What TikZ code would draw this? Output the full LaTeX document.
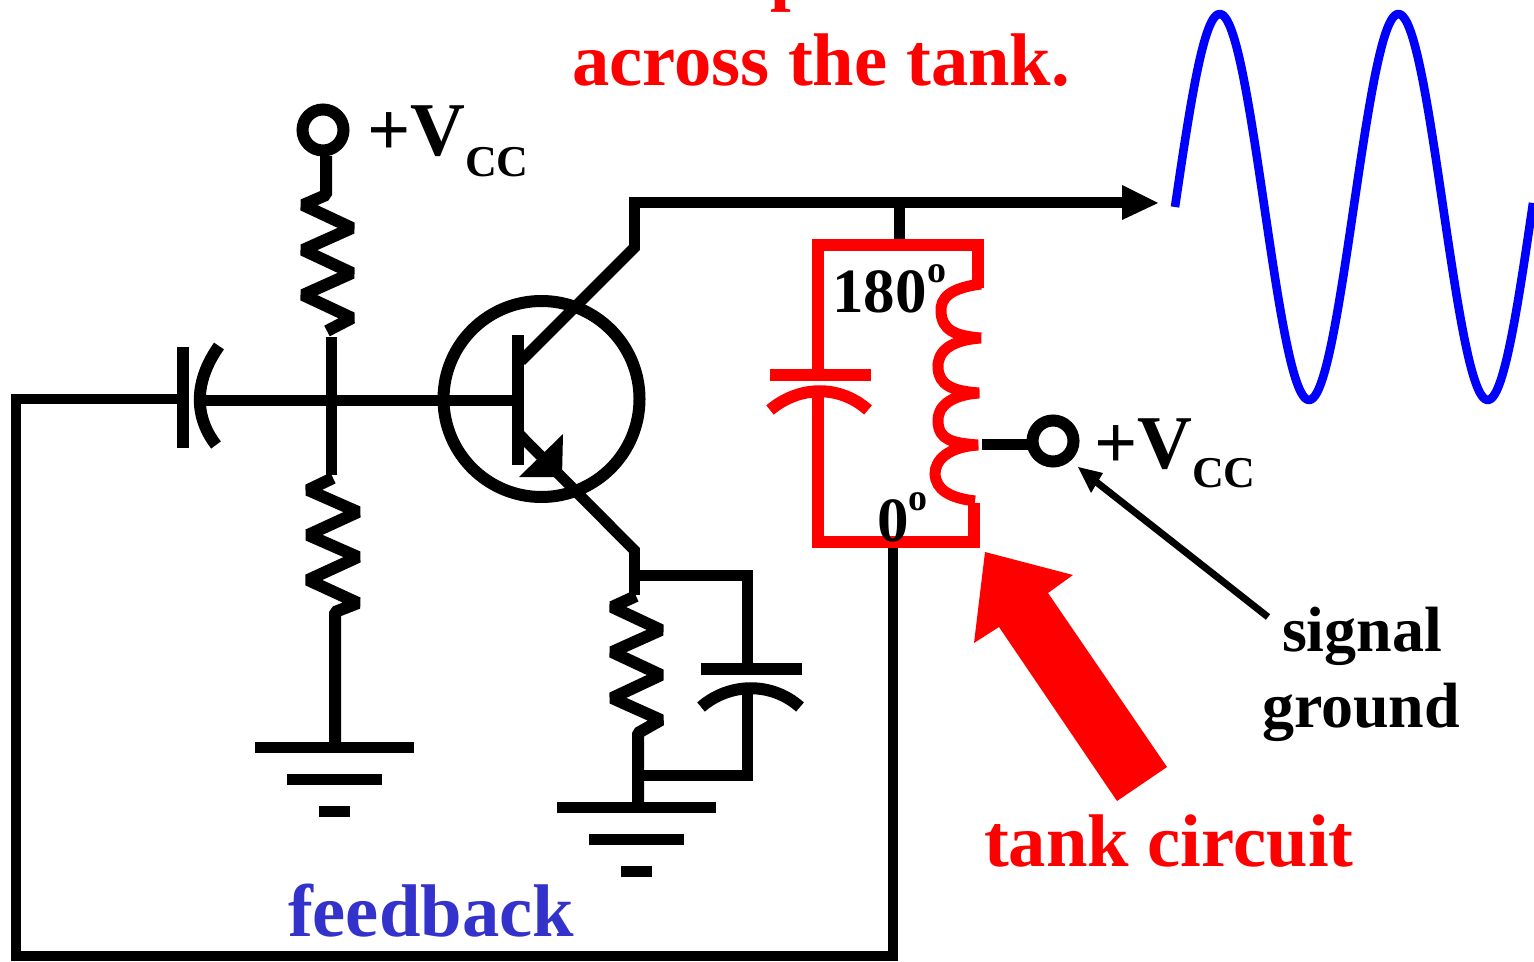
\documentclass[tikz,border=0pt]{standalone}
\usepackage{fontspec}
\setmainfont{Liberation Serif}
\definecolor{fbblue}{RGB}{51,51,204}
\tikzset{
  wire/.style={line width=5.5pt,line cap=butt,line join=miter},
  thinwire/.style={line width=5pt,line cap=butt,line join=miter},
  zigzag/.style={line width=6pt,line cap=butt,line join=bevel},
  redwire/.style={wire,draw=red},
  label/.style={inner sep=0pt,outer sep=0pt,anchor=base west,font=\bfseries},
  terminal/.style={circle,draw=black,line width=6pt,fill=white,minimum size=20.5pt,inner sep=0pt},
}
\newcommand{\fs}[1]{\fontsize{#1}{#1}\selectfont}
\begin{document}
\begin{tikzpicture}[x=0.5pt,y=-0.5pt]
\useasboundingbox (0,0) rectangle (1534,962);
% named junctions
\coordinate (fbstart) at (178,399);
\coordinate (fbtl) at (16,399);
\coordinate (fbbl) at (16,956);
\coordinate (fbbr) at (893,956);
\coordinate (tankbot) at (893,548);
\coordinate (junction) at (331,400);
\coordinate (base) at (518,400);
\coordinate (outtop) at (634,203);
\coordinate (outtip) at (1158,203);
\coordinate (tanktopstub) at (899,203);
\coordinate (tanktop) at (899,243);
\coordinate (coll) at (636,246);
\coordinate (collb) at (521,361);
\coordinate (emb) at (520,435);
\coordinate (emc) at (636,552);
\coordinate (g1) at (335,747);
\coordinate (g2) at (638,807);
\coordinate (e1) at (634,575);
\coordinate (e2) at (747,575);
\coordinate (e3) at (747,775);
\coordinate (e4) at (640,775);

% feedback wire
\draw[thinwire] (fbstart) -- (fbtl) -- (fbbl) -- (fbbr) -- (tankbot);
% left capacitor
\draw[line width=6pt] (183,347) -- (183,448);
\draw[line width=6pt] (219,346) .. controls (195,380) and (193,415) .. (216,445);
% base wire
\draw[wire] (206,400) -- (base);
% Vcc 1 with resistor
\node[terminal] (vcca) at (323,130) {};
\draw[zigzag] (326,156) -- (326,195) -- (303,205) -- (352,228) -- (303,250) -- (352,273) -- (303,295) -- (352,318) -- (327,331);
\draw[wire] (331,337) -- (junction) -- (331,475);
% lower resistor
\draw[zigzag] (333,478) -- (308,490) -- (358,512) -- (308,535) -- (358,557) -- (308,580) -- (358,603) -- (335,612) -- (g1);
% ground 1
\draw[wire] (255,747) -- (414,747);
\draw[wire] (287,779) -- (382,779);
\draw[wire] (319,811) -- (350,811);
% transistor
\node[circle,draw=black,line width=6pt,minimum size=98pt,inner sep=0pt] (bjt) at (541.5,399) {};
\draw[line width=6pt] (518,335) -- (518,465);
\draw[wire] (collb) -- (coll);
\draw[wire] (634,250) -- (outtop) -- (1125,203);
\fill (1122,185) -- (outtip) -- (1122,220) -- cycle;
\draw[wire] (tanktopstub) -- (tanktop);
\draw[wire] (emb) -- (emc);
\fill (563,434) -- (519,477) -- (562,477) -- cycle;
% emitter leg
\draw[wire] (634,548) -- (634,595);
\draw[zigzag] (636,596) -- (612,607) -- (661,630) -- (612,652) -- (661,675) -- (612,698) -- (661,720) -- (638,733) -- (g2);
\draw[wire] (e1) -- (e2) -- (747,665);
\draw[wire] (747,690) -- (e3) -- (e4);
% emitter capacitor
\draw[wire,line width=6pt] (701,669) -- (802,669);
\draw[wire,line width=6pt] (701,707) .. controls (730,682) and (772,682) .. (800,707);
% ground 2
\draw[wire] (557,807) -- (716,807);
\draw[wire] (589,839) -- (684,839);
\draw[wire] (621,871) -- (652,871);
% tank
\draw[redwire,line width=6pt] (818,372) -- (818,245.5) -- (978,245.5) -- (978,288);
\draw[redwire,line width=6pt] (818,392) -- (818,542) -- (974,542) -- (974,503);
\draw[redwire,line width=6pt] (770,375) -- (871,375);
\draw[redwire,line width=6pt] (770,410) .. controls (800,385) and (840,385) .. (868,410);
\draw[redwire] (981,284) .. controls (950,288) and (940,298) .. (941,312)
  .. controls (942,330) and (955,336) .. (981,338)
  .. controls (950,340) and (937,352) .. (938,368)
  .. controls (939,385) and (952,391) .. (979,393)
  .. controls (950,395) and (937,407) .. (938,422)
  .. controls (939,440) and (952,443) .. (978,445)
  .. controls (948,447) and (935,460) .. (935,474)
  .. controls (936,490) and (950,498) .. (975,501);
% Vcc 2
\node[terminal] (vccb) at (1053,441) {};
\draw[wire] (982,444) -- (1031,444);
% signal-ground pointer
\coordinate (sgstart) at (1268,617);
\coordinate (sgtip) at (1078,467);
\draw[line width=3.5pt] (sgstart) -- (1090,477);
\fill (sgtip) -- (1091,493) -- (1103,473) -- cycle;
% big red arrow
\fill[red] (985,552) -- (1073,575) -- (1048,593) -- (1167,767) -- (1117,801) -- (999,627) -- (974,643) -- cycle;
% sine
\draw[blue,line width=4.3pt,line join=round] plot[domain=0:358,samples=180,smooth] ({1175+\x},{207-193*sin(\x*2.0145)});
% labels
\begin{scope}
\clip (0,0) rectangle (1534,962);
\node[label,text=red] (topp) at (770,-3) {\fs{37.3pt}p};
\end{scope}
\node[label,text=red] (across) at (572,86) {\fs{37.3pt}across the tank.};
\node[label] (vcc1v) at (367,156) {\fs{38pt}+V};
\node[label] (vcc1c) at (465,177) {\fs{22pt}CC};
\node[label] (vcc2v) at (1094,468) {\fs{38pt}+V};
\node[label] (vcc2c) at (1192,487) {\fs{22pt}CC};
\node[label] (deg180) at (832,313) {\fs{31.5pt}180};
\node[label] (deg180o) at (927,283) {\fs{19pt}o};
\node[label] (deg0) at (877,541) {\fs{31.5pt}0};
\node[label] (deg0o) at (908,510) {\fs{19pt}o};
\node[label] (sig) at (1282,651) {\fs{32pt}signal};
\node[label] (gnd) at (1262,727) {\fs{32pt}ground};
\node[label,text=red] (tankc) at (984,866) {\fs{37.3pt}tank circuit};
\node[label,text=fbblue] (fb) at (288,936) {\fs{37.3pt}feedback};
\end{tikzpicture}
\end{document}
